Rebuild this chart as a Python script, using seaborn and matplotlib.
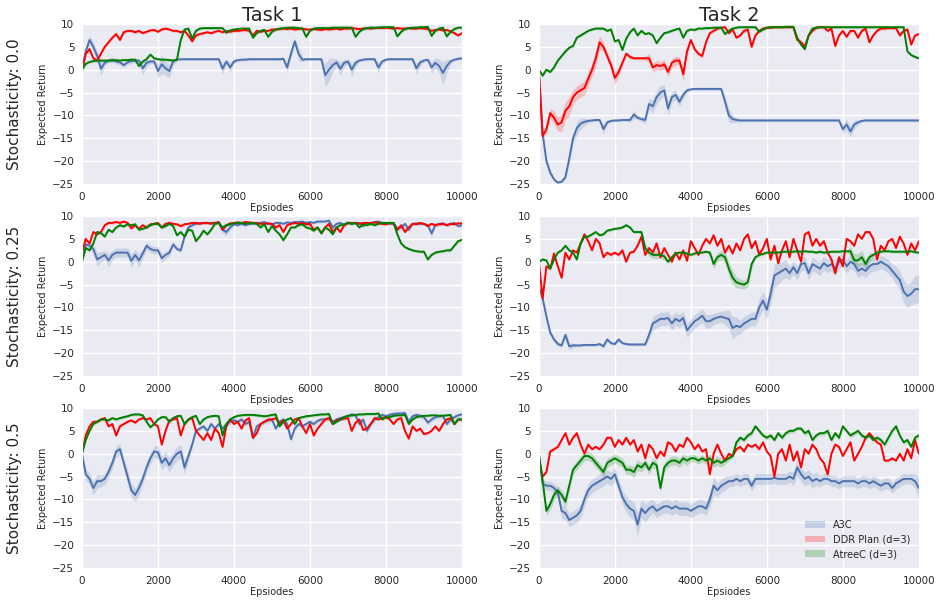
import numpy as np
import matplotlib
matplotlib.use("Agg")
import matplotlib.pyplot as plt
from matplotlib.patches import Patch
import seaborn as sns

# episodes on a 100-step grid
EPISODES = np.arange(0, 10001, 100)

METHODS = ["A3C", "DDR Plan (d=3)", "AtreeC (d=3)"]
COLORS = ["#4c72b0", "red", "green"]
TASKS = ["Task 1", "Task 2"]
STOCH = ["Stochasticity: 0.0", "Stochasticity: 0.25", "Stochasticity: 0.5"]

# ---------------- Task 1, stochasticity 0.0 ----------------
T1_S00_A3C = [0, 4, 6.5, 5, 3, 0.2, 1.5, 2, 2.2, 1.8,
              1.6, 1, 1.6, 1.9, 2, 2, 0.3, 1.5, 1.8, 1.8,
              -0.3, 1.2, 0.3, -0.3, 1.8, 2.2, 2.3, 2.3, 2.3, 2.3,
              2.3, 2.3, 2.3, 2.3, 2.3, 2.3, 2.3, 0.2, 1.8, 0.5,
              1.8, 2.1, 2.2, 2.2, 2.3, 2.3, 2.3, 2.3, 2.3, 2.3,
              2.3, 2.3, 2.3, 2.4, 0.5, 3.5, 6.2, 3.5, 2.2, 2.3,
              2.3, 2.3, 2.3, 2.3, -1.2, 0, 1, 1.6, 0.2, 1.5,
              1.8, 0, 1.5, 2, 2.2, 2.3, 2.3, 2.3, 0.5, 1.8,
              2.2, 2.3, 2.3, 2.3, 2.3, 2.3, 2.3, 2.3, 0.3, 1.6,
              2, 2.2, 0.5, 1.5, 0.8, -0.7, 0.8, 1.8, 2.2, 2.4,
              2.5]
T1_S00_A3C_SD = [0.5, 1, 1, 1, 1, 1.5, 0.5, 0.5, 0.5, 0.5,
                 0.5, 0.5, 0.5, 0.5, 0.5, 0.5, 1.5, 0.8, 0.5, 0.5,
                 1.5, 2, 1.5, 1.5, 0.8, 0.3, 0.3, 0.3, 0.3, 0.3,
                 0.3, 0.3, 0.3, 0.3, 0.3, 0.3, 0.3, 1.2, 0.5, 1,
                 0.5, 0.3, 0.3, 0.3, 0.3, 0.3, 0.3, 0.3, 0.3, 0.3,
                 0.3, 0.3, 0.3, 0.3, 1, 1, 0.8, 1.5, 0.5, 0.3,
                 0.3, 0.3, 0.3, 0.3, 2.5, 2.5, 1.5, 0.8, 1.5, 0.8,
                 0.5, 1.5, 0.8, 0.3, 0.3, 0.3, 0.3, 0.3, 1.2, 0.5,
                 0.3, 0.3, 0.3, 0.3, 0.3, 0.3, 0.3, 0.3, 1.2, 0.8,
                 0.3, 0.3, 1.2, 1.2, 1.5, 2.5, 1.5, 0.5, 0.3, 0.3,
                 0.3]
T1_S00_DDR = [0, 3.5, 4.5, 2.5, 2, 3.5, 5, 6, 7, 7.8,
              6.5, 8.2, 8.5, 8.5, 8.2, 8.5, 8, 8.3, 8.6, 8.7,
              8.3, 8.8, 9, 8.8, 8.5, 8.5, 8.2, 8.5, 7.5, 6.2,
              7.5, 7.8, 8, 8.2, 8, 8.3, 8.5, 8.2, 8.5, 8.3,
              8.5, 8.5, 8.6, 8.7, 8.5, 7.5, 8.5, 8.3, 8.5, 8.5,
              8.8, 8.8, 8.9, 9, 8.9, 9, 8.8, 8.9, 9, 8.8,
              8.8, 8.9, 8.8, 8.7, 8.9, 8.8, 8.9, 9, 8.8, 9,
              9, 9.1, 9, 8.9, 9, 9.1, 9, 9.1, 9.2, 9.1,
              9.2, 9.1, 9, 9.1, 9, 9, 9.1, 9, 9, 9.1,
              9, 8.9, 8.5, 8.7, 8.8, 8.6, 8.7, 8.4, 8, 7.5,
              8]
T1_S00_ATREEC = [0, 1.3, 1.7, 1.9, 2, 2, 2, 2, 2, 2.1,
                 2, 2.1, 2.1, 2.2, 2.2, 0.8, 1.8, 2.3, 3.3, 2.5,
                 2.3, 2.2, 2.2, 2.1, 2, 2.2, 6.5, 8.8, 9, 6.8,
                 8.5, 9, 9.1, 9.1, 9.1, 9.1, 9.1, 9.1, 8.1, 8.6,
                 8.8, 8.9, 9, 9, 9, 7, 8, 8.5, 8.7, 7.2,
                 8.3, 8.8, 9, 9.1, 9.2, 9.2, 9.2, 9.1, 9, 7.2,
                 8.5, 9, 9.1, 9.1, 9.1, 9.1, 9.2, 9.2, 9.2, 9.2,
                 9.2, 9.2, 7.2, 8.3, 8.9, 9.1, 9.2, 9.2, 9.2, 9.3,
                 9.3, 9.3, 9.3, 7.3, 8.3, 8.9, 9.1, 9.2, 9.2, 9.3,
                 9.3, 9.4, 7.4, 8.5, 9, 9.2, 7.3, 8.3, 8.9, 9.2,
                 9.2]

# ---------------- Task 2, stochasticity 0.0 ----------------
T2_S00_A3C = [0, -14, -20, -22.5, -24, -24.7, -24.5, -23.5, -19.5, -15,
              -12.8, -11.8, -11.4, -11.2, -11.1, -11, -11, -13, -11.5, -11.2,
              -11.1, -11.1, -11, -11, -11, -9.8, -10.5, -10.8, -11, -7.5,
              -8, -6, -5, -4.5, -8.5, -6, -5.5, -7, -5.5, -4.5,
              -4.3, -4.2, -4.2, -4.2, -4.2, -4.2, -4.2, -4.2, -4.2, -7,
              -10, -10.8, -11, -11.1, -11.1, -11.1, -11.1, -11.1, -11.1, -11.1,
              -11.1, -11.1, -11.1, -11.1, -11.1, -11.1, -11.1, -11.1, -11.1, -11.1,
              -11.1, -11.1, -11.1, -11.1, -11.1, -11.1, -11.1, -11.1, -11.1, -11.1,
              -13, -12, -13.5, -12, -11.5, -11.2, -11.1, -11.1, -11.1, -11.1,
              -11.1, -11.1, -11.1, -11.1, -11.1, -11.1, -11.1, -11.1, -11.1, -11.1,
              -11.1]
T2_S00_A3C_SD = [0.3, 0.5, 0.5, 0.5, 0.3, 0.3, 0.3, 0.5, 1, 1,
                 1.5, 1.2, 0.8, 0.5, 0.3, 0.3, 0.3, 1, 0.5, 0.3,
                 0.3, 0.3, 0.3, 0.3, 0.5, 0.8, 0.5, 0.5, 0.8, 1.2,
                 1.5, 1.5, 1.5, 1.2, 1.5, 1.2, 1, 1, 0.8, 0.5,
                 0.3, 0.3, 0.3, 0.3, 0.3, 0.3, 0.3, 0.3, 0.3, 1.2,
                 1.5, 0.8, 0.5, 0.3, 0.3, 0.3, 0.3, 0.3, 0.3, 0.3,
                 0.3, 0.3, 0.3, 0.3, 0.3, 0.3, 0.3, 0.3, 0.3, 0.3,
                 0.3, 0.3, 0.3, 0.3, 0.3, 0.3, 0.3, 0.3, 0.3, 0.3,
                 1, 1.2, 1.2, 1, 0.5, 0.3, 0.3, 0.3, 0.3, 0.3,
                 0.3, 0.3, 0.3, 0.3, 0.3, 0.3, 0.3, 0.3, 0.3, 0.3,
                 0.3]
T2_S00_DDR = [0, -14.5, -13, -9.5, -10.5, -12, -11.5, -9, -8, -6,
              -5, -4.5, -4, -2, 0, 2.5, 6, 5, 3, 1,
              -1.8, -0.5, 1.5, 3.5, 2.8, 2.5, 2.5, 2.5, 2.5, 2.5,
              0.5, 1, 0.8, 1.2, -0.5, 1.5, 2, 2, -1, 4,
              6.5, 4.5, 3.5, 3, 6, 8, 8.5, 9, 9.2, 9.3,
              8, 8.8, 7, 7.5, 8.5, 8.8, 5, 7.5, 8.5, 9,
              9.2, 9.2, 9.3, 9.3, 9.3, 9.3, 9.3, 9.3, 6.5, 6,
              5, 7.5, 8.5, 9.2, 9.3, 9.3, 8.5, 9, 5.2, 7.5,
              8.5, 7.2, 8.5, 8.5, 7, 8.5, 9, 6, 7.5, 8.5,
              9, 9, 9.1, 9.1, 9.1, 7.5, 8.5, 8.8, 5.5, 7.5,
              7.8]
T2_S00_DDR_SD = [0.3, 0.5, 1, 1, 1.5, 1.5, 2, 2, 2, 1.5,
                 1.5, 1.5, 1.5, 1.5, 1.5, 2, 1.5, 1, 1, 1,
                 1.5, 1, 0.8, 0.5, 0.5, 0.3, 0.3, 0.3, 0.5, 1,
                 1, 1, 1, 1, 1, 1, 1, 0.8, 1.5, 1,
                 0.5, 0.5, 0.5, 0.5, 0.3, 0.3, 0.3, 0.3, 0.3, 0.3,
                 0.3, 0.3, 0.3, 0.3, 0.3, 0.3, 0.5, 0.3, 0.3, 0.3,
                 0.3, 0.3, 0.3, 0.3, 0.3, 0.3, 0.3, 0.3, 0.5, 0.5,
                 0.5, 0.3, 0.3, 0.3, 0.3, 0.3, 0.3, 0.3, 0.5, 0.3,
                 0.3, 0.3, 0.3, 0.3, 0.3, 0.3, 0.3, 0.3, 0.3, 0.3,
                 0.3, 0.3, 0.3, 0.3, 0.3, 0.3, 0.3, 0.3, 0.3, 0.3,
                 0.3]
T2_S00_ATREEC = [0, -1.3, 0, -0.5, 0.5, 2, 3, 4, 4.8, 5.2,
                 7, 7.5, 8, 8.5, 8.8, 9, 9, 9, 8.5, 8.8,
                 6.2, 6.5, 4.3, 6.8, 8.2, 9, 7.5, 8.5, 7.8, 8,
                 7.5, 5.8, 7, 8, 8.2, 8.5, 8.8, 9, 7, 8.5,
                 8.8, 8.7, 9, 9, 9.1, 9.1, 9.2, 9.2, 9.2, 7.8,
                 8.5, 9, 9.2, 9.3, 9.3, 9.3, 9.3, 9.3, 8.3, 8.8,
                 9.2, 9.3, 9.3, 9.3, 9.3, 9.4, 9.4, 9.4, 7, 5.5,
                 4.5, 7.5, 9, 9.2, 9.3, 9.3, 9.3, 9.3, 9.3, 9.3,
                 9.3, 9.3, 9.3, 9.3, 9.3, 9.3, 9.3, 9.3, 9.3, 9.3,
                 9.3, 9.3, 9.3, 9.3, 9.3, 9.3, 9.3, 4, 3.2, 2.8,
                 2.5]

# ---------------- Task 1, stochasticity 0.25 ----------------
T1_S25_A3C = [0.3, 3.8, 3.5, 2.8, 0.5, 1, 1.5, 0.3, 1.5, 2,
              2, 2, 2, 0.2, 1.5, 0.3, 1.8, 3.5, 2.8, 2.5,
              2.5, 0.8, 1.5, 2, 3.8, 2.8, 2.5, 5.5, 7.5, 8,
              8.3, 8.5, 8.5, 8.5, 8.5, 8.5, 8.5, 7, 6.5, 7.5,
              8.2, 8, 8.3, 8, 8.3, 8.3, 8.5, 8.5, 8.7, 8.3,
              8.2, 8.5, 8.5, 8.3, 8.6, 8.5, 8.7, 8.7, 8.8, 8.5,
              8.7, 8.5, 8.8, 8.8, 8.8, 9, 7.5, 8.3, 8.5, 8,
              8.6, 8.3, 8.5, 8.5, 7.8, 8.5, 8.3, 8.7, 8.8, 8.5,
              8.5, 8.3, 8.5, 7.2, 7.5, 8.3, 7, 8.3, 8.4, 8.3,
              8.3, 8, 6.2, 8, 8.3, 8.4, 8, 8.3, 8.5, 7.8,
              8]
T1_S25_A3C_SD = [0.5, 0.8, 0.8, 1, 1.5, 1.2, 1, 1.5, 1, 1,
                 1, 1, 1, 1.5, 1.2, 1.5, 1, 0.8, 0.8, 0.8,
                 0.8, 1, 0.8, 0.8, 0.5, 0.5, 0.5, 0.5, 0.5, 0.3,
                 0.3, 0.3, 0.3, 0.3, 0.3, 0.3, 0.3, 0.8, 0.8, 0.5,
                 0.3, 0.3, 0.3, 0.3, 0.3, 0.3, 0.3, 0.3, 0.3, 0.3,
                 0.3, 0.3, 0.3, 0.3, 0.3, 0.3, 0.3, 0.3, 0.3, 0.3,
                 0.3, 0.3, 0.3, 0.3, 0.3, 0.3, 0.5, 0.3, 0.3, 0.3,
                 0.3, 0.3, 0.3, 0.3, 0.5, 0.3, 0.3, 0.3, 0.3, 0.3,
                 0.3, 0.3, 0.3, 0.5, 0.5, 0.3, 0.5, 0.3, 0.3, 0.3,
                 0.3, 0.3, 0.8, 0.3, 0.3, 0.3, 0.3, 0.3, 0.3, 0.3,
                 0.3]
T1_S25_DDR = [2, 5, 4, 6.5, 6, 6.5, 8, 8.5, 8.5, 8.7,
              8.5, 8.8, 8.5, 7.3, 8, 7.2, 8, 7.5, 8.2, 8.3,
              8.5, 7.5, 8.3, 8.5, 8.3, 8.2, 7.8, 8.2, 8.3, 8.5,
              8.5, 8.3, 8.5, 8.5, 8.3, 8.5, 8.7, 7, 8, 8.4,
              8.5, 8.6, 8.5, 8.7, 8.6, 8.5, 8.5, 8.3, 8.3, 8.4,
              8.3, 7.5, 8, 6.5, 8, 8.3, 8.5, 8.3, 8.5, 8.2,
              8.3, 7, 7.5, 6.3, 7.5, 8.3, 6.5, 7.5, 6.5, 8,
              8.5, 8.5, 8.5, 8.3, 8.5, 8.5, 8.5, 8.6, 8.5, 8.3,
              8.2, 8.5, 8.3, 7, 8, 6.5, 7.5, 8.3, 8.2, 8.5,
              8.3, 7.8, 8.3, 8, 8.2, 8.3, 8, 8.3, 8.2, 8.4,
              8.4]
T1_S25_ATREEC = [0, 3, 2.5, 4, 6.5, 6.3, 5.5, 7, 6.5, 7.5,
                 8, 7.7, 8.2, 8, 8.2, 7, 7.2, 7.5, 8, 8.3,
                 8.3, 7.5, 7.8, 8.3, 7.8, 5.8, 6.5, 5.5, 7, 6.8,
                 4.5, 5.5, 6.8, 6, 7, 8.3, 8.5, 7.5, 8, 8.2,
                 8.4, 8.5, 8.5, 8.3, 8.4, 8.5, 8.3, 7.5, 8.2, 6.5,
                 7.8, 6.8, 6, 4.7, 6, 7.5, 7.5, 8, 8.2, 7.5,
                 7.3, 6.8, 7.5, 6.2, 7.5, 7, 6, 7.5, 8, 8.2,
                 8.5, 8.3, 8.5, 7.5, 8.2, 8, 8.3, 8, 8.3, 8.5,
                 8.5, 8.5, 8.5, 6, 4, 3.2, 2.8, 2.5, 2.3, 2.2,
                 2.2, 0.5, 1.5, 2, 2.2, 2.3, 2.5, 2.5, 3.5, 4.5,
                 4.8]

# ---------------- Task 2, stochasticity 0.25 ----------------
T2_S25_A3C = [-5.5, -8, -12, -15.5, -17, -18, -18.3, -16, -18.5, -18.3,
              -18.3, -18.3, -18.2, -18.2, -18.2, -18.2, -18, -18.5, -17, -17.8,
              -18, -17, -17.8, -18, -18.1, -18.1, -18.1, -18.1, -18.1, -16,
              -13.5, -13, -12.5, -12.5, -12.3, -13.5, -12.5, -13, -12.3, -15,
              -14, -13, -12.5, -11.8, -13, -13, -12.5, -12.2, -12, -12.3,
              -12.5, -14.5, -14, -14.3, -13.5, -13, -12.5, -12.5, -10, -8.5,
              -10.5, -7, -3, -2.5, -2, -1.5, -2.5, -1.2, -2.5, -0.5,
              -0.3, -2.5, -0.5, -1, -1.5, -0.3, -1, -0.5, -1.5, 0,
              0.5, -1, 0, -0.5, -2, -1.5, -2, -1, -0.5, -0.5,
              0, -0.5, -1, -2, -3, -4, -6.5, -7.5, -7, -6,
              -6]
T2_S25_A3C_SD = [0.3, 0.5, 0.5, 0.5, 0.5, 0.5, 0.5, 0.8, 0.8, 0.5,
                 0.3, 0.3, 0.3, 0.3, 0.3, 0.3, 0.3, 0.5, 0.5, 0.3,
                 0.3, 0.5, 0.3, 0.3, 0.3, 0.3, 0.3, 0.3, 0.3, 1,
                 1.5, 1.5, 1.5, 1.5, 1.5, 1.5, 1.5, 1.5, 1.5, 1.5,
                 1.5, 1.5, 1.5, 1.5, 1.5, 1.5, 1.2, 1.2, 1.2, 1.5,
                 2, 2.5, 2, 1.5, 1.5, 1.5, 1.5, 1.5, 2, 2,
                 2, 2.5, 2.5, 2.5, 2, 2, 1.5, 1.5, 1.5, 1.5,
                 1.5, 1.5, 1.5, 1.5, 1.5, 1.5, 1.5, 1.5, 1.5, 1.5,
                 1.5, 1.5, 1.5, 1.5, 1.5, 1.5, 1.5, 1.5, 1.5, 1.5,
                 1.5, 1.5, 1.5, 1.5, 2, 2, 2.5, 2.5, 2.5, 3,
                 3]
T2_S25_DDR = [0, -8, -1, -1.5, 1.8, -1, -3.5, 2, 0.5, 2.5,
              2, 4, 6, 4.5, 2.5, 5, 4, 1, 2, 1.5,
              2, 1.5, 2.5, 0, 2, 2.2, 3.5, 5.5, 1.5, 3,
              2, 4, 1, 3, 1.5, 0, 2, 0.5, 2.5, 0.2,
              4.5, 3, 1.5, 3.5, 5, 4, 5.8, 3.5, 5, 2,
              3.5, 1.8, 4, 2.5, 5, 6, 3, 4.5, 1.5, 3,
              5, 0.5, 3.5, -0.3, 2.5, 4.5, 1, 5, 2.5, 0,
              6, 6.5, 3.5, 5, 3.5, 4.5, 2, 0.5, -2.5, 1,
              -1, 5, 4.5, 3.5, 6, 5, 6.5, 6.5, 5, 0.5,
              3.5, 2.5, 4.5, 5, 3, 5.5, 4, 1.5, 4, 2.5,
              4.5]
T2_S25_ATREEC = [0, 0.5, 0.3, -1.5, 0.5, 2, 2.5, 3.5, 2.5, 2,
                 0.5, 4, 5.5, 5.5, 6, 6.5, 5.8, 6, 6.8, 7,
                 7.2, 7.3, 7.5, 8, 7.5, 6.5, 6.5, 6.5, 3, 2,
                 1.5, 1.5, 1.5, 1.2, 0, 1, 1.8, 2, 2, 1.8,
                 1.5, 1.8, 2, 2, 2.2, 2, -0.5, 1, 1.5, 1,
                 -1.5, -3.5, -4.5, -4.8, -5, -4.5, -0.5, 1, 1.5, 1.7,
                 2, 2, 2, 2, 2.2, 2.2, 2.2, 2.2, 2.3, 2.2,
                 2.3, 2.2, 2.2, 2, 2.2, 2, 2.1, 2.2, 2.2, 2.2,
                 2.3, 2.3, 2.3, 0.3, 0.3, 1, -0.5, 1, 1.5, 2,
                 2.2, 2.3, 2.3, 2.2, 2.2, 2.2, 2.2, 2.2, 2.3, 2.1,
                 2]
T2_S25_ATREEC_SD = [0.3, 0.3, 0.3, 0.3, 0.3, 0.3, 0.3, 0.3, 0.3, 0.3,
                    0.3, 0.3, 0.3, 0.3, 0.3, 0.3, 0.3, 0.3, 0.3, 0.3,
                    0.3, 0.3, 0.3, 0.3, 0.3, 0.3, 0.3, 0.5, 0.8, 0.8,
                    0.8, 0.8, 0.8, 0.8, 0.5, 0.3, 0.3, 0.3, 0.3, 0.3,
                    0.3, 0.3, 0.3, 0.3, 0.3, 0.5, 1, 1, 1, 1.2,
                    1.5, 1.5, 1.2, 1, 1, 1, 1, 0.3, 0.3, 0.3,
                    0.3, 0.3, 0.3, 0.3, 0.3, 0.3, 0.3, 0.3, 0.3, 0.3,
                    0.3, 0.3, 0.3, 0.3, 0.3, 0.3, 0.3, 0.3, 0.3, 0.3,
                    0.3, 0.3, 1, 1.5, 1.5, 1.5, 1, 1, 0.5, 0.3,
                    0.3, 0.3, 0.3, 0.3, 0.3, 0.3, 0.3, 0.3, 0.3, 0.3,
                    0.3]

# ---------------- Task 1, stochasticity 0.5 ----------------
T1_S50_A3C = [0, -4.5, -5.5, -7.5, -6, -6, -5.5, -4, -2, 0.5,
              1, -2, -5, -8, -9, -7.5, -5.5, -3, -1, 0.5,
              0.3, -2, -1, -2.5, -1, 0, 0.5, -3, -0.5, 2,
              5, 5.5, 6, 5, 6.5, 5.5, 6.5, 5.5, 6.5, 7,
              7.3, 7, 7.5, 6.5, 7, 3.5, 6, 6.5, 7, 7.3,
              7.5, 5.5, 7, 7.5, 6.5, 3.2, 5.5, 6.5, 6, 6.5,
              7, 6.5, 7.2, 7.5, 7.5, 7.8, 7, 7.5, 7.8, 8,
              8.2, 8.6, 8.4, 6.5, 7.5, 5, 6.5, 7.5, 8, 8.5,
              8.2, 8.5, 8.7, 8.8, 8.8, 8.9, 7, 8.2, 8.5, 8.3,
              8, 6.8, 7.5, 8, 8.2, 8.3, 6.5, 7.5, 8, 8.4,
              8.6]
T1_S50_A3C_SD = [1, 1.2, 1.2, 1.5, 1.5, 1.2, 1.2, 1.2, 1.2, 1.2,
                 1.2, 1.2, 1.5, 1.5, 1.5, 1.5, 1.2, 1.2, 1.2, 1.2,
                 1.5, 1.5, 1.5, 1.5, 1.5, 1.5, 1.5, 1.5, 1, 0.8,
                 0.5, 0.5, 0.5, 0.5, 0.5, 0.5, 0.5, 0.5, 0.5, 0.5,
                 0.5, 0.5, 0.5, 0.5, 0.5, 0.8, 0.5, 0.5, 0.5, 0.5,
                 0.5, 0.5, 0.5, 0.5, 0.5, 0.8, 0.5, 0.5, 0.5, 0.5,
                 0.5, 0.5, 0.5, 0.5, 0.5, 0.5, 0.5, 0.5, 0.5, 0.5,
                 0.5, 0.5, 0.5, 0.5, 0.5, 0.8, 0.5, 0.5, 0.5, 0.5,
                 0.5, 0.5, 0.5, 0.5, 0.5, 0.5, 0.5, 0.5, 0.5, 0.5,
                 0.5, 0.5, 0.5, 0.5, 0.5, 0.5, 0.5, 0.5, 0.5, 0.5,
                 0.5]
T1_S50_DDR = [0, 4, 6, 7, 7, 7.5, 7.8, 6, 6.5, 4,
              6, 6.5, 7, 7.3, 6.8, 7.5, 7.8, 7.5, 7.8, 6.5,
              6, 2, 5, 7.3, 7.5, 7.8, 4, 6.5, 7.5, 7.8,
              5, 4, 3, 4.5, 3, 5.5, 4.5, 1.5, 6, 7.5,
              6.5, 7, 5.5, 7.3, 7.8, 3.5, 4.5, 6.5, 7, 7.5,
              7.5, 7.8, 6.5, 7.3, 5.5, 6.5, 7.5, 7.8, 6, 4.5,
              6.5, 4, 5.5, 6.5, 7.5, 7.8, 6.5, 7.3, 7.5, 7.7,
              7.8, 5, 6.8, 7.5, 5.2, 5.5, 6.5, 7.8, 7.5, 7.8,
              8, 7.5, 6.5, 7.5, 7.8, 5, 3.3, 6, 5, 5.5,
              4.3, 4.5, 5, 6, 5, 6.5, 7.5, 7.8, 6.5, 7.5,
              7.5]
T1_S50_ATREEC = [0, 3, 5, 6.5, 7, 7.5, 7.5, 7.3, 7.8, 7.5,
                 7.8, 8, 8.2, 8.5, 8.6, 8.6, 8.4, 7, 5.8, 6.5,
                 7.5, 8, 8, 7, 7.8, 8.2, 8.3, 6.5, 7.5, 8,
                 8.3, 6.5, 7.5, 8, 8.2, 8.3, 8.2, 4, 6.5, 7.5,
                 8, 8.3, 8.4, 8.5, 8.5, 8.5, 8.4, 8.3, 8.2, 8.3,
                 8.5, 8.6, 6, 7, 7.5, 7.8, 6.5, 7.8, 8, 8.2,
                 8.3, 8.4, 8.5, 8.6, 8.6, 8.7, 6.5, 7, 7.5, 8,
                 8.3, 8.4, 8.5, 8.6, 8.6, 8.7, 8.7, 8.7, 8.8, 7.5,
                 8, 8, 8.3, 8.4, 8.4, 8.5, 6.5, 7.5, 8, 8.2,
                 8.3, 8.3, 8.4, 8.4, 8.3, 8.3, 8.4, 8.5, 6.5, 7.5,
                 7.5]

# ---------------- Task 2, stochasticity 0.5 ----------------
T2_S50_A3C = [0, -6.5, -7, -7, -7.5, -8.5, -12.5, -13, -14.5, -14,
              -13.5, -12.5, -10, -8, -7, -6.5, -6, -5.5, -5, -5.5,
              -4.5, -7, -9.5, -11, -12, -12.5, -15.5, -12, -13, -12,
              -11.5, -12.5, -12, -11.5, -11.5, -12, -11.5, -12, -12, -12,
              -12.5, -12, -11.5, -11.5, -12, -10, -7, -8, -7, -6.5,
              -6, -6, -5.5, -6, -5.5, -5.5, -7, -5.5, -5.5, -5.5,
              -5.5, -5.5, -5.3, -5.5, -5.5, -5.5, -5, -5.5, -3, -4.5,
              -5.5, -5, -6, -5.5, -6, -5.5, -5.5, -6, -6, -6.5,
              -6, -6, -6, -6, -6.5, -6, -6, -6.5, -6, -6.5,
              -7, -6.5, -6.5, -7.5, -6.5, -6, -5.5, -5.5, -5.5, -6,
              -7.5]
T2_S50_A3C_SD = [0.5, 1, 1, 1, 1, 1.2, 1.5, 1.5, 1.5, 1.5,
                 1.5, 1.5, 1.5, 1.5, 1.5, 1.5, 1.5, 1.5, 1.5, 1.5,
                 1.5, 1.5, 1.5, 1.8, 2, 2, 2.5, 2, 2, 1.8,
                 1.5, 1.5, 1.5, 1.5, 1.5, 1.5, 1.5, 1.5, 1.5, 1.5,
                 1.5, 1.5, 1.5, 1.5, 1.5, 1.5, 2, 1.5, 1.5, 1.5,
                 1.2, 1.2, 1.2, 1.2, 1.2, 1.2, 1.2, 1.2, 1.2, 1.2,
                 1.2, 1.2, 1.2, 1.2, 1.2, 1.2, 1.2, 1.5, 2, 1.5,
                 1.5, 1.5, 1.5, 1.5, 1.2, 1.2, 1.2, 1.2, 1.2, 1.2,
                 1.2, 1.2, 1.2, 1.2, 1.2, 1.2, 1.2, 1.2, 1.2, 1.2,
                 1.2, 1.2, 1.2, 1.2, 1.2, 1.2, 1.2, 1, 1.2, 1.5,
                 2.5]
T2_S50_DDR = [-1, -5, -4, 0.5, 1, 1.5, 3, 4.5, 2, 3.5,
              4.5, 2, 0, 2, 1, 1.5, 1, 2, 3.5, 3.5,
              1.5, 3, 2, 3.5, 2, 3, 0.5, 2, -1, 2,
              1, -1, 0.5, -0.5, 2.5, 2, 0.5, 2, 1.5, 3.5,
              2.5, 1, 2, 0.5, 1, -4.5, 0, 2, 0, -1.5,
              0, -0.5, 1, 1.5, 0.5, 2, 1.5, 2, 1, 2.5,
              0.5, -0.5, -5, 0, 1, -1.5, 2, -1.5, 0.5, -3,
              1, 0, 2, 1, -1, -2, -4.5, 0, 2, 1.5,
              -0.5, 1, 2.5, -1.5, 0, 1.5, 3.5, 4.5, 3.5, 2.5,
              2, -1.5, -1.5, -1, -1.5, 0, -1.5, 1, -1, 3,
              0]
T2_S50_ATREEC = [0, -6, -12.5, -11, -9, -8, -9, -10.5, -7, -3.5,
                 -2.5, -1.5, -0.5, -0.5, -1, -2, -3, -4, -2, -1.5,
                 -1, -1.5, -2, -3.5, -3.5, -4, -2.5, -3, -2, -3.5,
                 -2, -2.5, -7.5, -3, -2, -1.5, -1.5, -2, -1, -1.5,
                 -1, -1, -1.5, -1, -1.5, -1, -2, -1.5, -2, -1.5,
                 -1, -0.5, 2.5, 3.5, 3, 4, 4.5, 6, 5, 4,
                 3.5, 4, 3, 4.5, 3.5, 4.5, 5, 5, 5.5, 5.5,
                 4.5, 5, 3, 4, 4.5, 4.5, 5, 3, 4.5, 3.5,
                 6, 5, 4, 4.5, 5, 4, 3.5, 4, 3, 3.5,
                 3, 2, 3.5, 5, 6, 4, 2.5, 3, 1.5, 3.5,
                 4]
T2_S50_ATREEC_SD = [0.5, 0.8, 1, 1.2, 1.2, 1, 1, 1.2, 1.2, 1,
                    1, 1, 1, 1, 1, 1, 1, 1, 1, 1,
                    1, 1, 1, 1, 1, 1.2, 1.2, 1, 1, 1,
                    1, 1, 1, 1, 1, 1, 1, 1, 1, 1,
                    0.8, 0.8, 0.8, 0.8, 0.8, 1, 1, 1, 1, 0.8,
                    0.5, 0.5, 0.5, 0.5, 0.5, 0.5, 0.5, 0.5, 0.5, 0.5,
                    0.5, 0.5, 0.5, 0.5, 0.5, 0.5, 0.5, 0.5, 0.5, 0.5,
                    0.5, 0.5, 0.5, 0.5, 0.5, 0.5, 0.5, 0.5, 0.5, 0.5,
                    0.5, 0.5, 0.5, 0.5, 0.5, 0.5, 0.5, 0.5, 0.5, 0.5,
                    0.5, 0.5, 0.5, 0.5, 0.5, 0.5, 0.5, 0.5, 0.5, 0.5,
                    0.5]

# band half-width for curves whose spread is barely visible
THIN_SD = 0.3

# (row, col) -> [(mean, spread) for A3C, DDR, AtreeC]
PANELS = {
    (0, 0): [(T1_S00_A3C, T1_S00_A3C_SD), (T1_S00_DDR, THIN_SD), (T1_S00_ATREEC, THIN_SD)],
    (0, 1): [(T2_S00_A3C, T2_S00_A3C_SD), (T2_S00_DDR, T2_S00_DDR_SD), (T2_S00_ATREEC, THIN_SD)],
    (1, 0): [(T1_S25_A3C, T1_S25_A3C_SD), (T1_S25_DDR, THIN_SD), (T1_S25_ATREEC, THIN_SD)],
    (1, 1): [(T2_S25_A3C, T2_S25_A3C_SD), (T2_S25_DDR, THIN_SD), (T2_S25_ATREEC, T2_S25_ATREEC_SD)],
    (2, 0): [(T1_S50_A3C, T1_S50_A3C_SD), (T1_S50_DDR, THIN_SD), (T1_S50_ATREEC, THIN_SD)],
    (2, 1): [(T2_S50_A3C, T2_S50_A3C_SD), (T2_S50_DDR, THIN_SD), (T2_S50_ATREEC, T2_S50_ATREEC_SD)],
}

for key, series in PANELS.items():
    for mean, sd in series:
        assert len(mean) == len(EPISODES), (key, len(mean))
        if not np.isscalar(sd):
            assert len(sd) == len(EPISODES), (key, "sd", len(sd))

sns.set_style("darkgrid")
plt.rcParams["grid.linewidth"] = 1.0

fig = plt.figure(figsize=(9.42, 6.06), dpi=100)

lefts = [0.087, 0.572]
bottoms = [0.6964, 0.3795, 0.0627]
width, height = 0.4034, 0.264

axes = {}
for (r, c), series in PANELS.items():
    ax = fig.add_axes([lefts[c], bottoms[r], width, height])
    axes[(r, c)] = ax
    for (mean, sd), color in zip(series, COLORS):
        mean = np.asarray(mean, dtype=float)
        sd = np.asarray(sd, dtype=float)
        ax.fill_between(EPISODES, mean - sd, mean + sd, color=color, alpha=0.2, linewidth=0)
        sns.lineplot(x=EPISODES, y=mean, color=color, linewidth=1.4, ax=ax, legend=False)
    ax.set_xlim(0, 10000)
    ax.set_ylim(-25, 10)
    ax.set_xticks(np.arange(0, 10001, 2000))
    ax.set_yticks(np.arange(-25, 11, 5))
    ax.tick_params(labelsize=7.5, pad=2)
    ax.set_xlabel("Epsiodes", fontsize=7, labelpad=1)
    ax.set_ylabel("Expected Return", fontsize=7, labelpad=3)
    if r == 0:
        ax.set_title(TASKS[c], fontsize=14, pad=2)

for r, label in enumerate(STOCH):
    fig.text(0.015, bottoms[r] + height / 2, label, rotation=90, fontsize=11,
             ha="center", va="center", color=".15")

handles = [Patch(facecolor=c, alpha=0.25, edgecolor="none") for c in COLORS]
axes[(2, 1)].legend(handles, METHODS, loc="lower right", frameon=False, fontsize=7)

fig.savefig("out.png", dpi=100)
